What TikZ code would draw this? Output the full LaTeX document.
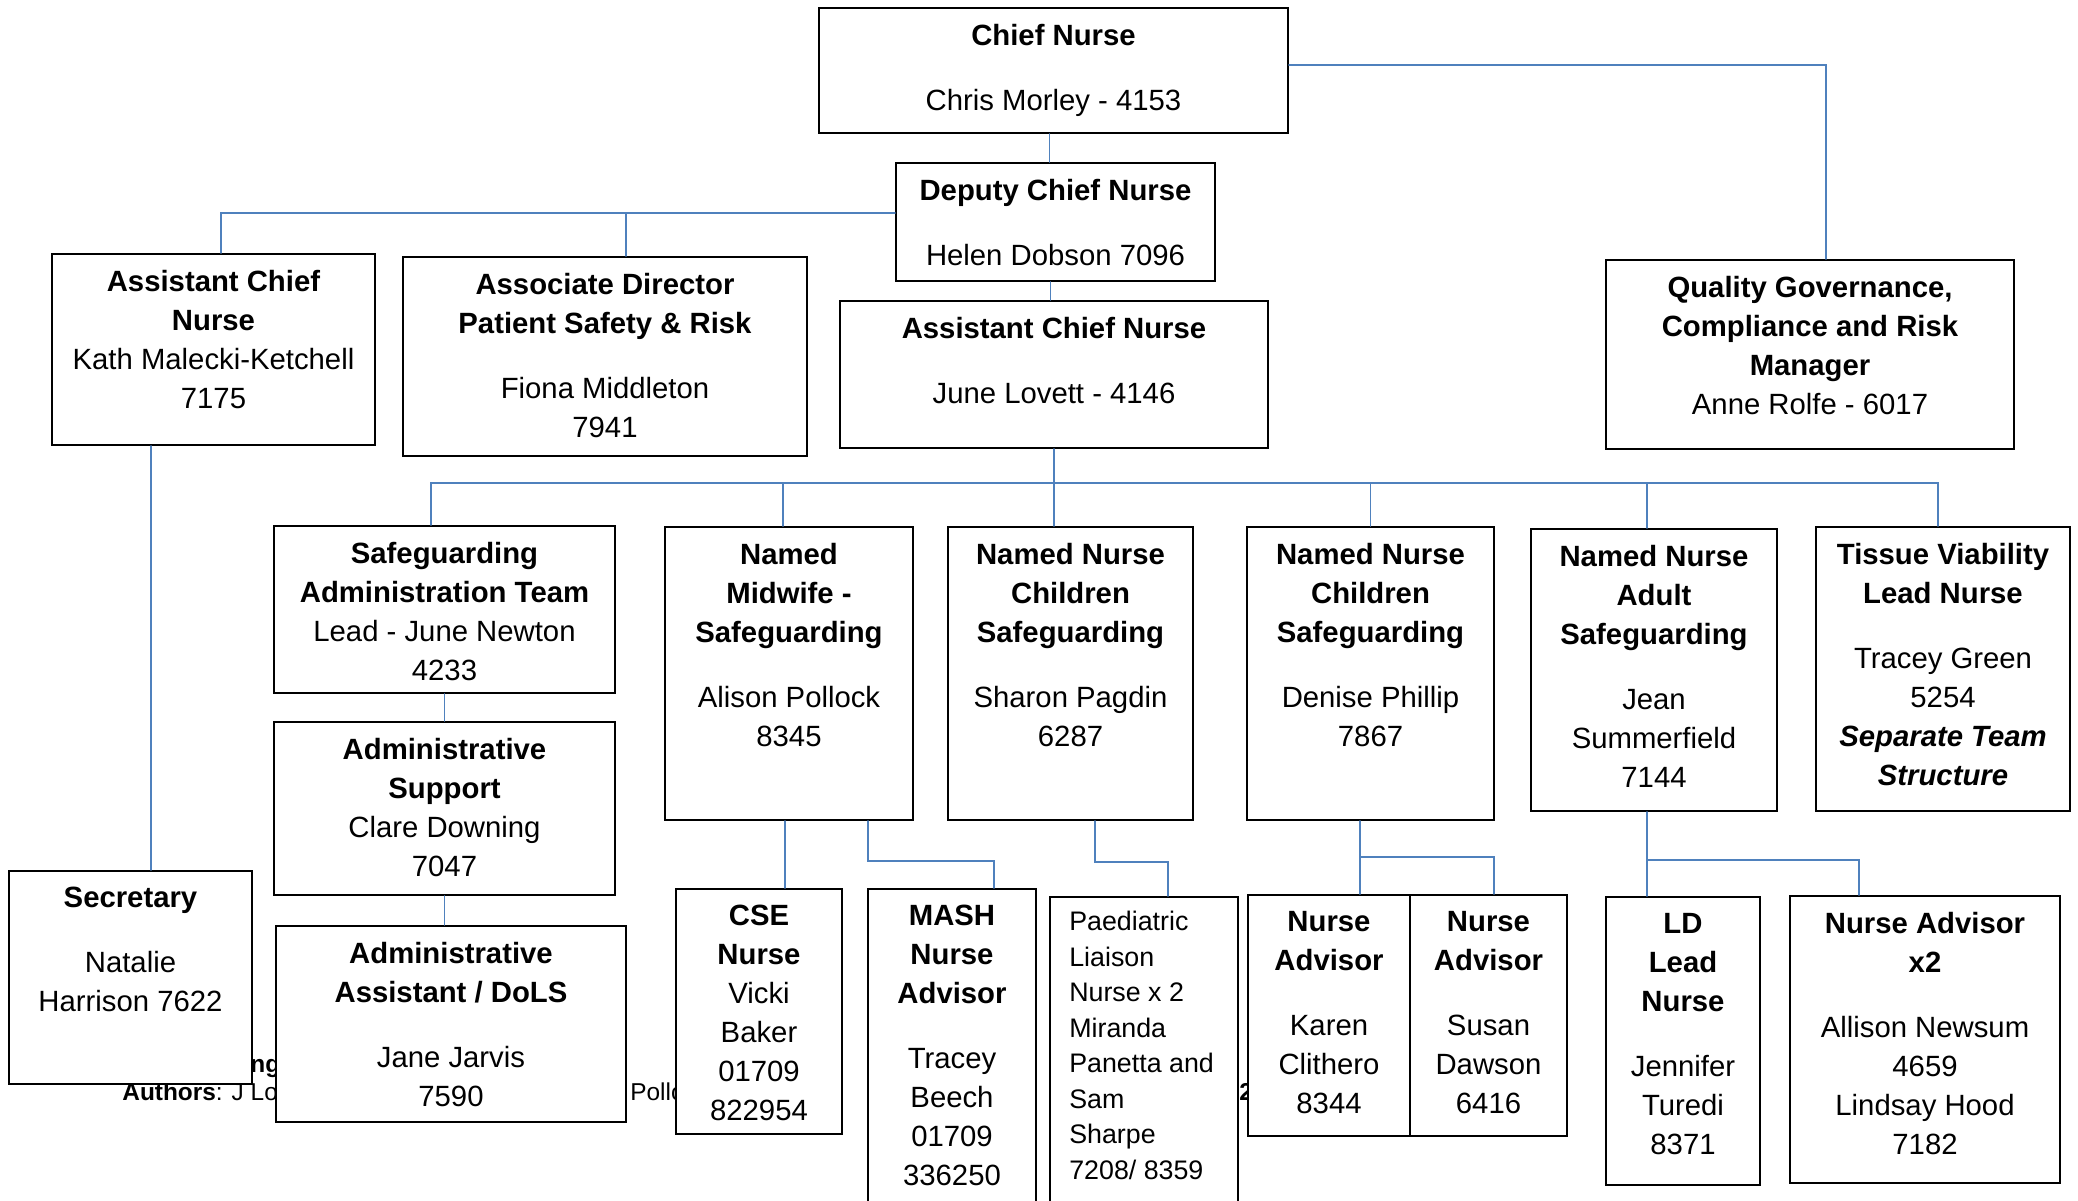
\documentclass[tikz,border=0pt]{standalone}
\usepackage{fontspec}
\setmainfont{Liberation Sans}
\usetikzlibrary{fit}
\definecolor{linkblue}{RGB}{79,129,189}

\begin{document}
\begin{tikzpicture}[line cap=round,line join=miter,x=0.5pt,y=-0.5pt,
  box/.style={draw=black, fill=white, line width=1.1pt, inner sep=0pt},
  txt/.style={align=center, inner sep=0pt, anchor=north, font=\fontsize{14.65pt}{19.5pt}\selectfont},
  paedtxt/.style={align=left, inner sep=0pt, anchor=north west, font=\fontsize{13.4pt}{17.75pt}\selectfont},
  foot/.style={inner sep=0pt, anchor=base west, font=\fontsize{12.2pt}{14pt}\selectfont},
  link/.style={draw=linkblue, line width=0.9pt}]
\useasboundingbox (0,0) rectangle (2078,1200);
% footer text behind the boxes
\node[foot] (footA) at (250,1072) {\textbf{ng}};
\node[foot] (footB) at (122,1100) {\textbf{Authors}: J Lov};
\node[foot] (footC) at (630,1100) {Pollo};
\node[foot] (footD) at (1239,1100) {\textbf{2}};
% boxes
\node[box, fit={(819,8) (1288,133)}] (chief) {};
\node[box, fit={(896,163) (1215,281)}] (deputy) {};
\node[box, fit={(52,254) (375,445)}] (acnLeft) {};
\node[box, fit={(403,257) (807,456)}] (assocDir) {};
\node[box, fit={(840,301) (1268,448)}] (acnMain) {};
\node[box, fit={(1606,260) (2014,449)}] (quality) {};
\node[box, fit={(274,526) (615,693)}] (sgAdmin) {};
\node[box, fit={(665,527) (913,820)}] (midwife) {};
\node[box, fit={(948,527) (1193,820)}] (nnChildA) {};
\node[box, fit={(1247,527) (1494,820)}] (nnChildB) {};
\node[box, fit={(1531,529) (1777,811)}] (nnAdult) {};
\node[box, fit={(1816,527) (2070,811)}] (tissue) {};
\node[box, fit={(274,722) (615,895)}] (adminSupp) {};
\node[box, fit={(276,926) (626,1122)}] (adminAsst) {};
\node[box, fit={(676,889) (842,1134)}] (cse) {};
\node[box, fit={(868,889) (1036,1215)}] (mash) {};
\node[box, fit={(1050,897) (1238,1215)}] (paed) {};
\node[box, fit={(1248,895) (1410,1136)}] (advKaren) {};
\node[box, fit={(1410,895) (1567,1136)}] (advSusan) {};
\node[box, fit={(1606,897) (1760,1185)}] (ldLead) {};
\node[box, fit={(1790,896) (2060,1183)}] (advTwo) {};
\node[box, fit={(9,871) (252,1084)}] (secretary) {};
% texts
\node[txt] (chief-t) at ([yshift=-8.3pt]chief.north) {\textbf{Chief Nurse}\\[13pt]Chris Morley - 4153};
\node[txt] (deputy-t) at ([yshift=-8.3pt]deputy.north) {\textbf{Deputy Chief Nurse}\\[13pt]Helen Dobson 7096};
\node[txt] (acnLeft-t) at ([yshift=-8.3pt]acnLeft.north) {\textbf{Assistant Chief}\\\textbf{Nurse}\\Kath Malecki-Ketchell\\7175};
\node[txt] (assocDir-t) at ([yshift=-8.3pt]assocDir.north) {\textbf{Associate Director}\\\textbf{Patient Safety \& Risk}\\[13pt]Fiona Middleton\\7941};
\node[txt] (acnMain-t) at ([yshift=-8.3pt]acnMain.north) {\textbf{Assistant Chief Nurse}\\[13pt]June Lovett - 4146};
\node[txt] (quality-t) at ([yshift=-8.3pt]quality.north) {\textbf{Quality Governance,}\\\textbf{Compliance and Risk}\\\textbf{Manager}\\Anne Rolfe - 6017};
\node[txt] (sgAdmin-t) at ([yshift=-8.3pt]sgAdmin.north) {\textbf{Safeguarding}\\\textbf{Administration Team}\\Lead - June Newton\\4233};
\node[txt] (midwife-t) at ([yshift=-8.3pt]midwife.north) {\textbf{Named}\\\textbf{Midwife -}\\\textbf{Safeguarding}\\[13pt]Alison Pollock\\8345};
\node[txt] (nnChildA-t) at ([yshift=-8.3pt]nnChildA.north) {\textbf{Named Nurse}\\\textbf{Children}\\\textbf{Safeguarding}\\[13pt]Sharon Pagdin\\6287};
\node[txt] (nnChildB-t) at ([yshift=-8.3pt]nnChildB.north) {\textbf{Named Nurse}\\\textbf{Children}\\\textbf{Safeguarding}\\[13pt]Denise Phillip\\7867};
\node[txt] (nnAdult-t) at ([yshift=-8.3pt]nnAdult.north) {\textbf{Named Nurse}\\\textbf{Adult}\\\textbf{Safeguarding}\\[13pt]Jean\\Summerfield\\7144};
\node[txt] (tissue-t) at ([yshift=-8.3pt]tissue.north) {\textbf{Tissue Viability}\\\textbf{Lead Nurse}\\[13pt]Tracey Green\\5254\\\textbf{\itshape Separate Team}\\\textbf{\itshape Structure}};
\node[txt] (adminSupp-t) at ([yshift=-8.3pt]adminSupp.north) {\textbf{Administrative}\\\textbf{Support}\\Clare Downing\\7047};
\node[txt] (adminAsst-t) at ([yshift=-8.3pt]adminAsst.north) {\textbf{Administrative}\\\textbf{Assistant / DoLS}\\[13pt]Jane Jarvis\\7590};
\node[txt] (cse-t) at ([yshift=-8.3pt]cse.north) {\textbf{CSE}\\\textbf{Nurse}\\Vicki\\Baker\\01709\\822954};
\node[txt] (mash-t) at ([yshift=-8.3pt]mash.north) {\textbf{MASH}\\\textbf{Nurse}\\\textbf{Advisor}\\[13pt]Tracey\\Beech\\01709\\336250};
\node[paedtxt] (paed-t) at ([xshift=10pt,yshift=-7.5pt]paed.north west) {Paediatric\\Liaison\\Nurse x 2\\Miranda\\Panetta and\\Sam\\Sharpe\\7208/ 8359};
\node[txt] (advKaren-t) at ([yshift=-8.3pt]advKaren.north) {\textbf{Nurse}\\\textbf{Advisor}\\[13pt]Karen\\Clithero\\8344};
\node[txt] (advSusan-t) at ([yshift=-8.3pt]advSusan.north) {\textbf{Nurse}\\\textbf{Advisor}\\[13pt]Susan\\Dawson\\6416};
\node[txt] (ldLead-t) at ([yshift=-8.3pt]ldLead.north) {\textbf{LD}\\\textbf{Lead}\\\textbf{Nurse}\\[13pt]Jennifer\\Turedi\\8371};
\node[txt] (advTwo-t) at ([yshift=-8.3pt]advTwo.north) {\textbf{Nurse Advisor}\\\textbf{x2}\\[13pt]Allison Newsum\\4659\\Lindsay Hood\\7182};
\node[txt] (secretary-t) at ([yshift=-8.3pt]secretary.north) {\textbf{Secretary}\\[13pt]Natalie\\Harrison 7622};
% top of the chart
\coordinate (chiefDown) at ([xshift=-2pt]chief.south);
\draw[link] (chiefDown) -- (chiefDown |- deputy.north);
\draw[link] ([yshift=2.75pt]chief.east) -| ([xshift=8pt]quality.north);
\coordinate (depDown) at ([xshift=-2.5pt]deputy.south);
\draw[link] (depDown) -- (depDown |- acnMain.north);
\coordinate (busTop) at ([yshift=4.5pt]deputy.west);
\draw[link] (busTop) -| ([xshift=3.75pt]acnLeft.north);
\coordinate (assocTop) at ([xshift=10.5pt]assocDir.north);
\draw[link] (assocTop) -- (assocTop |- busTop);
\coordinate (secTop) at ([xshift=10.25pt]secretary.north);
\draw[link] (secTop |- acnLeft.south) -- (secTop);
% safeguarding row
\coordinate (busMid) at ([yshift=-17pt]acnMain.south);
\draw[link] (acnMain.south) -- (acnMain.south |- nnChildA.north);
\draw[link] (busMid) -| ([xshift=-6.75pt]sgAdmin.north);
\draw[link] (busMid) -| ([xshift=-3pt]midwife.north);
\draw[link] (busMid) -| (nnChildB.north);
\draw[link] (busMid) -| ([xshift=-3.5pt]nnAdult.north);
\draw[link] (busMid) -| ([xshift=-2.5pt]tissue.north);
% admin column
\draw[link] (sgAdmin.south) -- (adminSupp.north);
\draw[link] (adminSupp.south) -- (adminSupp.south |- adminAsst.north);
% bottom row
\coordinate (mwA) at ([xshift=-2pt]midwife.south);
\draw[link] (mwA) -- (mwA |- cse.north);
\draw[link] ([xshift=39.5pt]midwife.south) -- ++(0,40) -| ([xshift=21pt]mash.north);
\draw[link] ([xshift=12.25pt]nnChildA.south) -- ++(0,41) -| ([xshift=12pt]paed.north);
\coordinate (ncB) at ([xshift=-5.25pt]nnChildB.south);
\draw[link] (ncB) -- (ncB |- advKaren.north);
\draw[link] ([yshift=-18pt]ncB) -| ([xshift=2.75pt]advSusan.north);
\coordinate (naA) at ([xshift=-3.5pt]nnAdult.south);
\draw[link] (naA) -- (naA |- ldLead.north);
\draw[link] ([yshift=-24pt]naA) -| ([xshift=-33pt]advTwo.north);
\end{tikzpicture}
\end{document}
